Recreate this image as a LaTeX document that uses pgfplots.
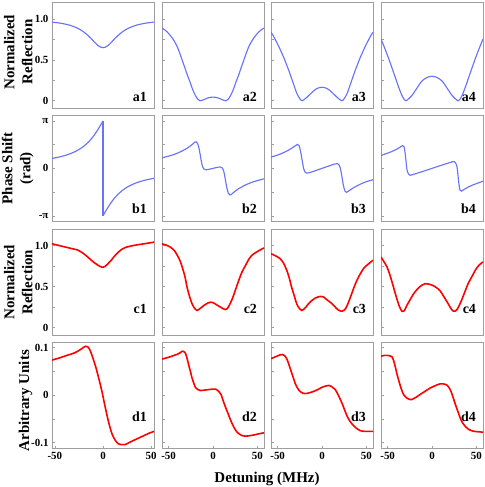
\documentclass[border=0pt]{standalone}
\usepackage{fontspec}
\setmainfont{Liberation Serif}
\usepackage{pgfplots}
\pgfplotsset{compat=1.18}

\definecolor{lineblue}{RGB}{105,115,248}
\definecolor{frame}{gray}{0.62}

\newcommand{\tl}[1]{\textbf{\fontsize{11}{12}\selectfont #1}}

\pgfplotsset{
  panel/.style={
    scale only axis, width=102bp, height=106.5bp, anchor=north west,
    xmin=-57.5, xmax=57.5,
    axis line style={draw=frame, line width=1pt},
    tick style={draw=frame, line width=0.6pt},
    tick align=inside, major tick length=3bp, minor tick length=3bp,
    ytick pos=left, xtick pos=bottom, xtick=\empty, yticklabels={},
    /pgf/number format/assume math mode=true,
    ylabel style={align=center, inner sep=0pt, anchor=south,
      font=\bfseries\fontsize{15}{18}\selectfont},
  },
  rowa/.style={ymin=-0.095, ymax=1.21, ytick={0,0.5,1}, minor ytick={0.25,0.75}},
  rowb/.style={ymin=-1.12, ymax=1.125, ytick={-1,0,1}, minor ytick={-0.5,0.5}},
  rowc/.style={ymin=-0.095, ymax=1.2, ytick={0,0.5,1}, minor ytick={0.25,0.75}},
  rowd/.style={ymin=-0.112, ymax=0.112, ytick={-0.1,0,0.1}, minor ytick={-0.05,0.05},
    xtick={-50,0,50}, xticklabels={\tl{-50},\tl{0},\tl{50}}},
  colone/.style={xmin=-53, xmax=53},
  bl/.style={color=lineblue, line width=1.15pt, smooth, no markers},
  rd/.style={color=red, line width=1.6pt, smooth, no markers},
}
\tikzset{plab/.style={anchor=base east, font=\bfseries\fontsize{14}{16}\selectfont}}

\begin{document}
\begin{tikzpicture}
\useasboundingbox (-52bp,2bp) rectangle (433bp,-485bp);

% ---------------- row a ----------------
\begin{axis}[panel, rowa, colone, at={(0bp,0bp)}, yticklabels={\tl{0},\tl{0.5},\tl{1.0}},
  ylabel={Normalized\\Reflection}, ylabel style={at={(axis description cs:-0.19,0.53)}}]
\addplot[bl] coordinates {(-53,0.964) (-45,0.952) (-40,0.941) (-35,0.927) (-30,0.907) (-25,0.880) (-20,0.843) (-15,0.793) (-12.5,0.764) (-10,0.733) (-7.5,0.702) (-5,0.675) (-2.5,0.657) (0,0.650) (2.5,0.657) (5,0.675) (7.5,0.702) (10,0.733) (12.5,0.764) (15,0.793) (20,0.843) (25,0.880) (30,0.907) (35,0.927) (40,0.941) (45,0.952) (53,0.964)};
\node[plab] at (rel axis cs:0.965,0.07) {a1};
\end{axis}
\begin{axis}[panel, rowa, at={(110bp,0bp)}]
\addplot[bl] coordinates {(-57.5,0.89) (-54.6,0.87) (-51.75,0.845) (-48.9,0.81) (-46,0.77) (-43.1,0.72) (-40.25,0.66) (-37.4,0.58) (-34.5,0.49) (-31.6,0.40) (-28.75,0.31) (-25.9,0.23) (-23,0.14) (-20.1,0.07) (-17.25,0.02) (-14.7,0) (-10.35,0.013) (-6.9,0.03) (-3.45,0.041) (0,0.045) (3.45,0.041) (6.9,0.03) (10.35,0.013) (14.7,0) (17.25,0.02) (20.1,0.07) (23,0.14) (25.9,0.23) (28.75,0.31) (31.6,0.40) (34.5,0.49) (37.4,0.58) (40.25,0.66) (43.1,0.72) (46,0.77) (48.9,0.81) (51.75,0.845) (54.6,0.87) (57.5,0.89)};
\node[plab] at (rel axis cs:0.965,0.07) {a2};
\end{axis}
\begin{axis}[panel, rowa, at={(219bp,0bp)}]
\addplot[bl] coordinates {(-57.5,0.84) (-54.6,0.79) (-51.75,0.73) (-48.9,0.67) (-46,0.60) (-43.1,0.53) (-40.25,0.45) (-37.4,0.37) (-34.5,0.28) (-31.6,0.19) (-28.75,0.10) (-25.3,0.03) (-22.4,0) (-17.25,0.04) (-11.5,0.10) (-5.75,0.15) (0,0.165) (5.75,0.15) (11.5,0.10) (17.25,0.04) (22.4,0) (25.3,0.03) (28.75,0.10) (31.6,0.19) (34.5,0.28) (37.4,0.37) (40.25,0.45) (43.1,0.53) (46,0.60) (48.9,0.67) (51.75,0.73) (54.6,0.79) (57.5,0.84)};
\node[plab] at (rel axis cs:0.965,0.07) {a3};
\end{axis}
\begin{axis}[panel, rowa, at={(329bp,0bp)}]
\addplot[bl] coordinates {(-57.5,0.755) (-54.6,0.68) (-51.75,0.60) (-48.9,0.52) (-46,0.43) (-43.1,0.34) (-40.25,0.25) (-37.4,0.16) (-34.5,0.08) (-32.2,0.03) (-29.3,0) (-23,0.06) (-17.25,0.15) (-11.5,0.24) (-5.75,0.285) (0,0.30) (5.75,0.285) (11.5,0.24) (17.25,0.15) (23,0.06) (29.3,0) (32.2,0.03) (34.5,0.08) (37.4,0.16) (40.25,0.25) (43.1,0.34) (46,0.43) (48.9,0.52) (51.75,0.60) (54.6,0.68) (57.5,0.755)};
\node[plab] at (rel axis cs:0.965,0.07) {a4};
\end{axis}

% ---------------- row b (phase in units of pi) ----------------
\begin{axis}[panel, rowb, colone, at={(0bp,-113bp)}, yticklabels={\tl{-π},\tl{0},\tl{π}},
  ylabel={Phase Shift\\(rad)}, ylabel style={at={(axis description cs:-0.18,0.5)}}]
\addplot[bl] coordinates {(-53,0.2084) (-45,0.2422) (-40,0.2692) (-35,0.3024) (-30,0.3440) (-25,0.3972) (-20,0.4665) (-15,0.5577) (-12,0.6257) (-10,0.6772) (-8,0.7338) (-6,0.7951) (-4,0.8608) (-2,0.9295) (-1,0.9646) (0,1)};
\addplot[color=lineblue, line width=1.15pt] coordinates {(0,1) (0,-1)};
\addplot[bl] coordinates {(0,-1) (1,-0.9646) (2,-0.9295) (4,-0.8608) (6,-0.7951) (8,-0.7338) (10,-0.6772) (12,-0.6257) (15,-0.5577) (20,-0.4665) (25,-0.3972) (30,-0.3440) (35,-0.3024) (40,-0.2692) (45,-0.2422) (53,-0.2084)};
\node[plab] at (rel axis cs:0.965,0.075) {b1};
\end{axis}
\begin{axis}[panel, rowb, at={(110bp,-113bp)}]
\addplot[bl] coordinates {(-57.5,0.22) (-51.75,0.25) (-46,0.28) (-40.25,0.32) (-34.5,0.37) (-28.75,0.43) (-23,0.51) (-20.7,0.55) (-19,0.56) (-17.25,0.52) (-15.5,0.40) (-13.8,0.22) (-12.1,0.06) (-10.35,-0.01) (-8.05,-0.03) (-5.75,-0.025) (-2.9,-0.013) (0,0) (2.9,0.013) (5.75,0.025) (8.05,0.03) (10.35,0.01) (12.1,-0.06) (13.8,-0.22) (15.5,-0.40) (17.25,-0.52) (19,-0.56) (20.7,-0.55) (23,-0.51) (28.75,-0.43) (34.5,-0.37) (40.25,-0.32) (46,-0.28) (51.75,-0.25) (57.5,-0.22)};
\node[plab] at (rel axis cs:0.965,0.075) {b2};
\end{axis}
\begin{axis}[panel, rowb, at={(219bp,-113bp)}]
\addplot[bl] coordinates {(-57.5,0.24) (-51.75,0.27) (-46,0.31) (-40.25,0.36) (-34.5,0.42) (-29.9,0.48) (-27.6,0.505) (-25.9,0.48) (-24.15,0.36) (-22.4,0.17) (-20.7,0.0) (-19,-0.08) (-17.25,-0.10) (-13.8,-0.09) (-9.2,-0.06) (-4.6,-0.03) (0,0) (4.6,0.03) (9.2,0.06) (13.8,0.09) (17.25,0.10) (19,0.08) (20.7,0.0) (22.4,-0.17) (24.15,-0.36) (25.9,-0.48) (27.6,-0.505) (29.9,-0.48) (34.5,-0.42) (40.25,-0.36) (46,-0.31) (51.75,-0.27) (57.5,-0.24)};
\node[plab] at (rel axis cs:0.965,0.075) {b3};
\end{axis}
\begin{axis}[panel, rowb, at={(329bp,-113bp)}]
\addplot[bl] coordinates {(-57.5,0.27) (-51.75,0.31) (-46,0.35) (-40.25,0.40) (-35.65,0.45) (-33.35,0.48) (-31.6,0.46) (-30.5,0.35) (-29.3,0.15) (-28.2,-0.03) (-26.45,-0.12) (-24.7,-0.145) (-20.7,-0.125) (-13.8,-0.085) (-6.9,-0.043) (0,0) (6.9,0.043) (13.8,0.085) (20.7,0.125) (24.7,0.145) (26.45,0.12) (28.2,0.03) (29.3,-0.15) (30.5,-0.35) (31.6,-0.46) (33.35,-0.48) (35.65,-0.45) (40.25,-0.40) (46,-0.35) (51.75,-0.31) (57.5,-0.27)};
\node[plab] at (rel axis cs:0.965,0.075) {b4};
\end{axis}

% ---------------- row c ----------------
\begin{axis}[panel, rowc, colone, at={(0bp,-227bp)}, yticklabels={\tl{0},\tl{0.5},\tl{1.0}},
  ylabel={Normalized\\Reflection}, ylabel style={at={(axis description cs:-0.19,0.5)}}]
\addplot[rd] coordinates {(-53,1.02) (-42.4,0.99) (-31.8,0.96) (-26.5,0.945) (-21.2,0.91) (-15.9,0.86) (-10.6,0.805) (-5.3,0.76) (-2.1,0.74) (0,0.735) (2.1,0.745) (5.3,0.78) (8.5,0.82) (12.7,0.88) (18,0.94) (23.3,0.975) (31.8,1.0) (42.4,1.02) (53,1.04)};
\node[plab] at (rel axis cs:0.965,0.21) {c1};
\end{axis}
\begin{axis}[panel, rowc, at={(110bp,-227bp)}]
\addplot[rd] coordinates {(-57.5,1.02) (-51.75,1.0) (-48.1,0.98) (-43.7,0.94) (-40.5,0.885) (-37.4,0.82) (-34.8,0.74) (-31.6,0.62) (-29.2,0.49) (-26.45,0.38) (-23.6,0.29) (-20.7,0.235) (-17.9,0.21) (-14.4,0.235) (-10.35,0.27) (-5.75,0.30) (-2.9,0.31) (0,0.305) (4.6,0.275) (9.2,0.245) (14.1,0.22) (17.25,0.25) (21.7,0.35) (25.3,0.46) (29.2,0.58) (32.8,0.68) (36.8,0.76) (40.25,0.83) (44.3,0.885) (50.6,0.93) (57.5,0.97)};
\node[plab] at (rel axis cs:0.965,0.21) {c2};
\end{axis}
\begin{axis}[panel, rowc, at={(219bp,-227bp)}]
\addplot[rd] coordinates {(-57.5,0.90) (-51.75,0.87) (-47.3,0.84) (-43.7,0.79) (-39.8,0.70) (-36.8,0.60) (-34.2,0.49) (-31.05,0.38) (-28.5,0.29) (-25.3,0.23) (-22.8,0.21) (-19,0.24) (-15.3,0.29) (-11.5,0.33) (-7.7,0.36) (-2.1,0.38) (2.3,0.37) (5.5,0.34) (10.35,0.30) (14.95,0.25) (18.4,0.215) (22.4,0.20) (26.45,0.23) (29.9,0.31) (33.35,0.41) (37.5,0.53) (41.4,0.62) (46.9,0.72) (51.75,0.77) (57.5,0.82)};
\node[plab] at (rel axis cs:0.965,0.21) {c3};
\end{axis}
\begin{axis}[panel, rowc, at={(329bp,-227bp)}]
\addplot[rd] coordinates {(-57.5,0.86) (-54.05,0.80) (-50.8,0.74) (-47.7,0.65) (-45.2,0.56) (-42.3,0.45) (-39.6,0.35) (-36.8,0.26) (-33.9,0.20) (-31.05,0.21) (-28.4,0.27) (-24.7,0.34) (-20.9,0.41) (-17.25,0.46) (-13.5,0.50) (-7.8,0.535) (-0.3,0.52) (4.6,0.49) (9,0.45) (13.8,0.37) (18.3,0.29) (21.85,0.225) (24.6,0.20) (28.2,0.22) (33.2,0.33) (36.8,0.43) (40.7,0.535) (45.4,0.63) (50,0.72) (54.05,0.77) (57.5,0.80)};
\node[plab] at (rel axis cs:0.965,0.21) {c4};
\end{axis}

% ---------------- row d ----------------
\begin{axis}[panel, rowd, colone, at={(0bp,-340bp)}, yticklabels={\tl{-0.1},\tl{0},\tl{0.1}},
  ylabel={Arbitrary Units}, ylabel style={at={(axis description cs:-0.19,0.45)}}]
\addplot[rd] coordinates {(-53,0.074) (-44.5,0.079) (-37.4,0.084) (-29.7,0.089) (-23.5,0.096) (-20.1,0.101) (-18,0.103) (-15.9,0.102) (-13.3,0.094) (-9.8,0.074) (-6.9,0.055) (-4.5,0.036) (-1.1,0.008) (2.4,-0.026) (5.9,-0.057) (9.3,-0.081) (12.8,-0.095) (15.9,-0.102) (19.1,-0.104) (22.3,-0.104) (24.9,-0.102) (28.6,-0.098) (31.8,-0.095) (37.1,-0.090) (42.4,-0.085) (47.7,-0.080) (53,-0.076)};
\node[plab] at (rel axis cs:0.965,0.25) {d1};
\end{axis}
\begin{axis}[panel, rowd, at={(110bp,-340bp)}]
\addplot[rd] coordinates {(-57.5,0.076) (-51.75,0.079) (-48.1,0.081) (-43.7,0.084) (-40.5,0.086) (-37.4,0.089) (-34.8,0.0925) (-32.8,0.092) (-31.05,0.088) (-29.3,0.078) (-27.4,0.0635) (-25.3,0.049) (-23.6,0.036) (-21.6,0.025) (-19.8,0.0166) (-17.25,0.012) (-14.1,0.010) (-9.2,0.011) (-4.6,0.012) (0,0.013) (2.9,0.013) (6.55,0.008) (9.2,0.001) (12.3,-0.016) (14.95,-0.029) (17.9,-0.043) (20.7,-0.056) (23.6,-0.0675) (26.45,-0.076) (29.2,-0.081) (32.8,-0.085) (36.8,-0.086) (41.4,-0.085) (46.2,-0.0835) (51.75,-0.081) (57.5,-0.079)};
\node[plab] at (rel axis cs:0.965,0.25) {d2};
\end{axis}
\begin{axis}[panel, rowd, at={(219bp,-340bp)}]
\addplot[rd] coordinates {(-57.5,0.077) (-51.1,0.082) (-47.15,0.085) (-44.3,0.0857) (-42,0.083) (-39.8,0.077) (-37.95,0.068) (-36,0.057) (-33.1,0.041) (-30.4,0.0257) (-27.6,0.015) (-24.7,0.008) (-21.85,0.0045) (-19.1,0.0035) (-14.4,0.005) (-9.7,0.008) (-4.6,0.012) (-0.2,0.0166) (3.45,0.019) (7.4,0.0207) (10.35,0.019) (13,0.015) (14.95,0.012) (18.4,0.0) (22.4,-0.016) (25.3,-0.03) (28.1,-0.043) (31.6,-0.055) (35.65,-0.064) (39.1,-0.070) (43.1,-0.0745) (48.3,-0.076) (52.9,-0.076) (57.5,-0.076)};
\node[plab] at (rel axis cs:0.965,0.25) {d3};
\end{axis}
\begin{axis}[panel, rowd, at={(329bp,-340bp)}]
\addplot[rd] coordinates {(-57.5,0.082) (-53.5,0.084) (-50.8,0.084) (-47.7,0.083) (-45.2,0.081) (-43.1,0.072) (-41.4,0.060) (-39.7,0.046) (-37.7,0.0325) (-35.1,0.016) (-32.1,0.0015) (-28.2,-0.006) (-24.6,-0.009) (-22.8,-0.009) (-17.8,-0.004) (-13.5,0.0015) (-8.05,0.008) (-2.3,0.015) (3.45,0.020) (9,0.024) (12.65,0.024) (16.4,0.022) (19.55,0.015) (22.1,0.005) (24.7,-0.01) (27.6,-0.026) (30.5,-0.041) (33.2,-0.054) (36.8,-0.064) (40.7,-0.071) (45.4,-0.075) (50,-0.0765) (54.05,-0.077) (57.5,-0.078)};
\node[plab] at (rel axis cs:0.965,0.25) {d4};
\end{axis}

\node[anchor=base, font=\bfseries\fontsize{15}{18}\selectfont] at (215bp,-480.7bp) {Detuning (MHz)};
\end{tikzpicture}
\end{document}
